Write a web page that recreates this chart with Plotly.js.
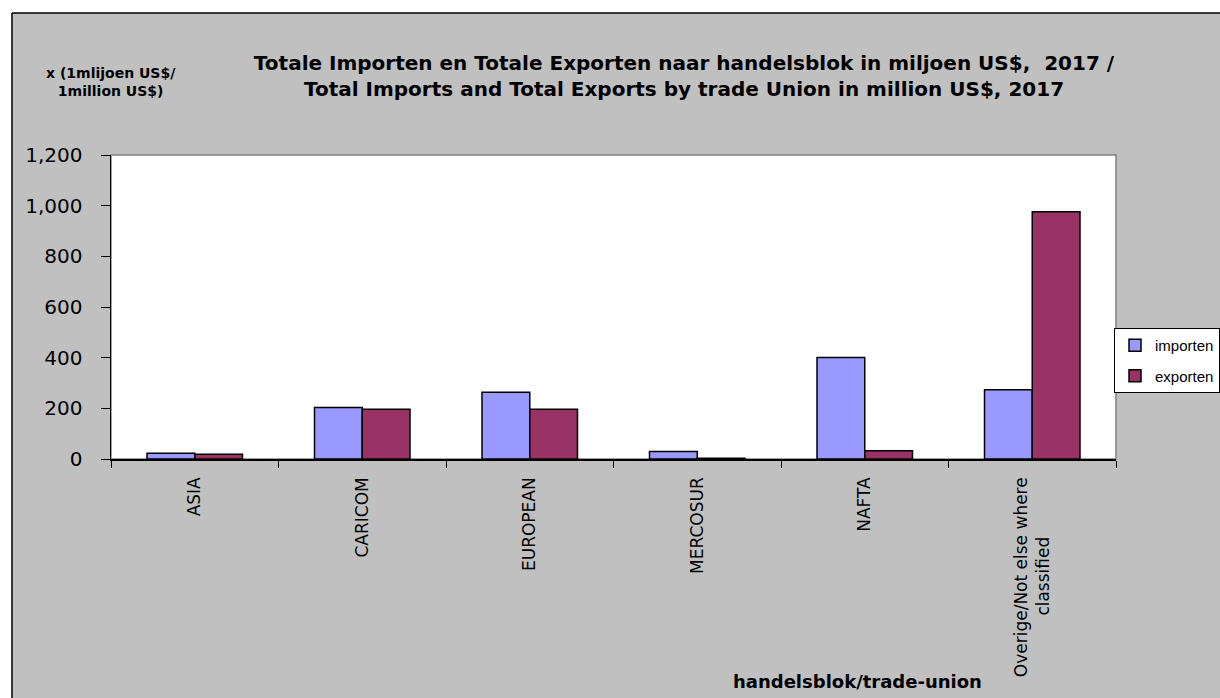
<!DOCTYPE html>
<html><head><meta charset="utf-8">
<script src="https://cdn.plot.ly/plotly-3.0.1.min.js"></script>
<style>html,body{margin:0;padding:0;background:#fff;}#chart{width:1220px;height:698px;}</style>
</head><body><div id="chart"></div>
<script>
// ---- data ----
const categories = ["ASIA", "CARICOM", "EUROPEAN", "MERCOSUR", "NAFTA", "Overige"];
const tickLabels = ["ASIA", "CARICOM", "EUROPEAN", "MERCOSUR", "NAFTA",
  "Overige/Not else where<br>classified\u00A0\u00A0\u00A0\u00A0\u00A0\u00A0\u00A0\u00A0\u00A0\u00A0\u00A0"];
const importen = [23, 203, 263, 30, 401, 273];
const exporten = [19, 196, 196, 3, 33, 976];
const seriesNames = ["importen", "exporten"];
const yTicks = [0, 200, 400, 600, 800, 1000, 1200];

// ---- layout helpers (pixel -> paper fraction) ----
const W = 1220, H = 698;
const M = {l: 111, r: 104, t: 155, b: 239, autoexpand: false};
const PW = W - M.l - M.r, PH = H - M.t - M.b;
const fx = px => (px - M.l) / PW;
const fy = py => (H - M.b - py) / PH;
const FONT = "DejaVu Sans, Liberation Sans, Arial, sans-serif";
const FONT_L = "Liberation Sans, Arial, sans-serif";

const traces = [
  {type: "bar", name: seriesNames[0], x: categories, y: importen, legendgroup: "a",
   marker: {color: "#9999FF", line: {color: "#000", width: 1.5}}},
  {type: "bar", name: seriesNames[1], x: categories, y: exporten, legendgroup: "b",
   marker: {color: "#993366", line: {color: "#000", width: 1.5}}}
];

const layout = {
  width: W, height: H,
  margin: M,
  paper_bgcolor: "#C0C0C0",
  plot_bgcolor: "#FFFFFF",
  font: {family: FONT, color: "#000"},
  barmode: "group",
  bargap: 0.43,
  bargroupgap: 0,
  showlegend: true,
  title: {
    text: "<b>Totale Importen en Totale Exporten naar handelsblok in miljoen US$,  2017 /<br>Total Imports and Total Exports by trade Union in million US$, 2017</b>",
    font: {family: FONT, size: 20, color: "#000"},
    xref: "container", yref: "container",
    x: 684 / W, xanchor: "center",
    y: 1 - 70 / H, yanchor: "middle"
  },
  xaxis: {
    type: "category",
    tickmode: "array", tickvals: categories, ticktext: tickLabels,
    tickson: "boundaries",
    ticks: "outside", ticklen: 7, tickcolor: "#000", tickwidth: 1,
    tickangle: -90,
    ticklabelstandoff: 10,
    tickfont: {family: FONT, size: 17, color: "#000"},
    showline: true, linecolor: "#000", linewidth: 1.5,
    showgrid: false, zeroline: false, automargin: false,
    fixedrange: true
  },
  yaxis: {
    range: [0, 1200],
    tickmode: "array", tickvals: yTicks,
    tickformat: ",",
    ticks: "outside", ticklen: 9, tickcolor: "#000", tickwidth: 1,
    ticklabelstandoff: 14,
    tickfont: {family: FONT, size: 20, color: "#000"},
    showline: true, linecolor: "#000", linewidth: 1.5,
    showgrid: false, zeroline: false, automargin: false,
    fixedrange: true
  },
  legend: {
    x: fx(1114), xanchor: "left", y: fy(328), yanchor: "top",
    bgcolor: "#FFFFFF", bordercolor: "#000", borderwidth: 1,
    font: {family: FONT_L, size: 15, color: "#000"},
    traceorder: "grouped", tracegroupgap: 8
  },
  annotations: [
    {text: "<b>x (1mlijoen US$/<br>1million US$)</b>", xref: "paper", yref: "paper",
     x: fx(111), y: fy(82), xanchor: "center", yanchor: "middle", showarrow: false,
     font: {family: FONT, size: 14, color: "#000"}},
    {text: "<b>handelsblok/trade-union</b>", xref: "paper", yref: "paper",
     x: fx(857), y: fy(681), xanchor: "center", yanchor: "middle", showarrow: false,
     font: {family: FONT, size: 18, color: "#000"}}
  ],
  shapes: [
    // white strips outside the chart frame
    {type: "rect", xref: "paper", yref: "paper", x0: fx(-10), x1: fx(12), y0: fy(760), y1: fy(-10),
     fillcolor: "#FFFFFF", line: {width: 0}, layer: "above"},
    {type: "rect", xref: "paper", yref: "paper", x0: fx(-10), x1: fx(1300), y0: fy(13), y1: fy(-10),
     fillcolor: "#FFFFFF", line: {width: 0}, layer: "above"},
    // chart frame lines
    {type: "line", xref: "paper", yref: "paper", x0: fx(12), x1: fx(12), y0: fy(760), y1: fy(13),
     line: {color: "#000", width: 1.5}, layer: "above"},
    {type: "line", xref: "paper", yref: "paper", x0: fx(12), x1: fx(1300), y0: fy(13), y1: fy(13),
     line: {color: "#000", width: 1.5}, layer: "above"},
    // plot area border (top/right gray)
    {type: "rect", xref: "paper", yref: "paper", x0: 0, x1: 1, y0: 0, y1: 1,
     fillcolor: "rgba(0,0,0,0)", line: {color: "#808080", width: 1.5}, layer: "below"}
  ]
};

Plotly.newPlot("chart", traces, layout, {displayModeBar: false, staticPlot: true});
</script>
</body></html>
